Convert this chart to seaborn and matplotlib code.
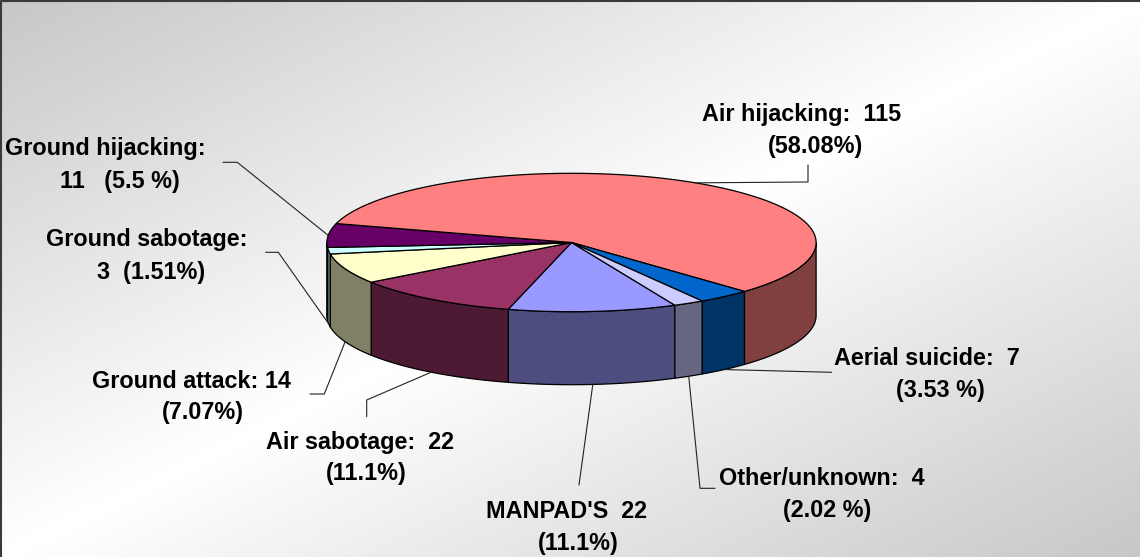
import numpy as np
import matplotlib
matplotlib.use("Agg")
import matplotlib.pyplot as plt
import matplotlib.colors as mcolors
import seaborn as sns

# Slice data, clockwise starting with MANPAD'S (Excel series order)
categories = ["MANPAD'S", "Air sabotage", "Ground attack", "Ground sabotage",
              "Ground hijacking", "Air hijacking", "Aerial suicide", "Other/unknown"]
counts = [22, 22, 14, 3, 11, 115, 7, 4]
slice_colors = ["#9999FF", "#993366", "#FFFFCC", "#CCFFFF",
                "#660066", "#FF8080", "#0066CC", "#CCCCFF"]

# label text, two lines per slice
label_line1 = ["MANPAD'S  22", "Air sabotage:  22", "Ground attack: 14", "Ground sabotage:",
               "Ground hijacking:", "Air hijacking:  115", "Aerial suicide:  7", "Other/unknown:  4"]
label_line2 = ["(11.1%)", "(11.1%)", "(7.07%)", "3  (1.51%)",
               "11   (5.5 %)", "(58.08%)", "(3.53 %)", "(2.02 %)"]

sns.set_theme(style="white")
plt.rcParams["font.family"] = ["Liberation Sans", "DejaVu Sans"]

W, H = 1140, 557
fig = plt.figure(figsize=(W / 100, H / 100), dpi=100)
ax = fig.add_axes([0, 0, 1, 1])
ax.set_xlim(0, W)
ax.set_ylim(H, 0)
ax.axis("off")

# background: gray corners (top-left, bottom-right), white diagonal band
gx, gy = np.meshgrid(np.linspace(0, 1, 400), np.linspace(0, 1, 200))
shade = 1 - 0.22 * np.abs(gx + gy - 1)
ax.imshow(shade, cmap="gray", vmin=0, vmax=1, extent=[0, W, H, 0],
          aspect="auto", interpolation="bilinear", zorder=0)
ax.plot([1, 1, W], [H, 1, 1], color="#3a3a3a", lw=1.5, zorder=1)

# pie geometry (pixels)
cx, cy, rx, ry, depth = 571.5, 242.5, 244.6, 69.2, 73
start = -65  # math angle where first slice starts, drawn clockwise
fracs = np.array(counts) / np.sum(counts)
edges = start - 360 * np.concatenate([[0], np.cumsum(fracs)])


def ell(t):
    r = np.radians(t)
    return cx + rx * np.cos(r), cy - ry * np.sin(r)


# side walls (only the front half is visible)
for i, c in enumerate(slice_colors):
    a, b = edges[i], edges[i + 1]
    side = tuple(0.5 * v for v in mcolors.to_rgb(c))
    for k in (0, 1):
        lo = max(b, -180 - 360 * k)
        hi = min(a, -360 * k)
        if hi > lo:
            t = np.linspace(lo, hi, 120)
            x, y = ell(t)
            ax.fill(np.r_[x, x[::-1]], np.r_[y, y[::-1] + depth],
                    fc=side, ec="black", lw=0.9, zorder=2)

# top face
for i, c in enumerate(slice_colors):
    t = np.linspace(edges[i], edges[i + 1], 240)
    x, y = ell(t)
    ax.fill(np.r_[cx, x], np.r_[cy, y], fc=c, ec="black", lw=0.9,
            joinstyle="round", zorder=3)

# label layout: (x1, baseline1, x2, baseline2, leader path from the text side)
layout = [
    (566.7, 517.7, 578.3, 550.0, [(579, 485)]),
    (360.0, 449.3, 365.8, 480.0, [(366.7, 416.7), (366.7, 400)]),
    (191.7, 388.3, 202.5, 419.3, [(310, 394), (324.3, 394)]),
    (146.3, 246.0, 151.0, 279.0, [(265.7, 252.3), (278.3, 252.3)]),
    (105.8, 155.0, 119.7, 188.3, [(223, 162.3), (237.3, 162.3)]),
    (801.7, 120.7, 815.3, 153.0, [(808, 165), (808, 182)]),
    (926.7, 365.0, 940.8, 396.7, [(831.7, 372.3)]),
    (821.7, 485.0, 827.5, 516.7, [(715, 488.3), (700, 488.3)]),
]

for i in range(len(categories)):
    x1, y1, x2, y2, path = layout[i]
    ax.text(x1, y1, label_line1[i], ha="center", va="baseline",
            fontsize=16.8, fontweight="bold", color="black", zorder=5)
    ax.text(x2, y2, label_line2[i], ha="center", va="baseline",
            fontsize=16.8, fontweight="bold", color="black", zorder=5)
    mid = (edges[i] + edges[i + 1]) / 2
    mx, my = ell(mid)
    if np.sin(np.radians(mid)) < 0:
        my = my + depth
    px = [p[0] for p in path] + [mx]
    py = [p[1] for p in path] + [my]
    ax.plot(px, py, color="#222222", lw=0.8, zorder=4)

fig.savefig("out.png", dpi=100)
